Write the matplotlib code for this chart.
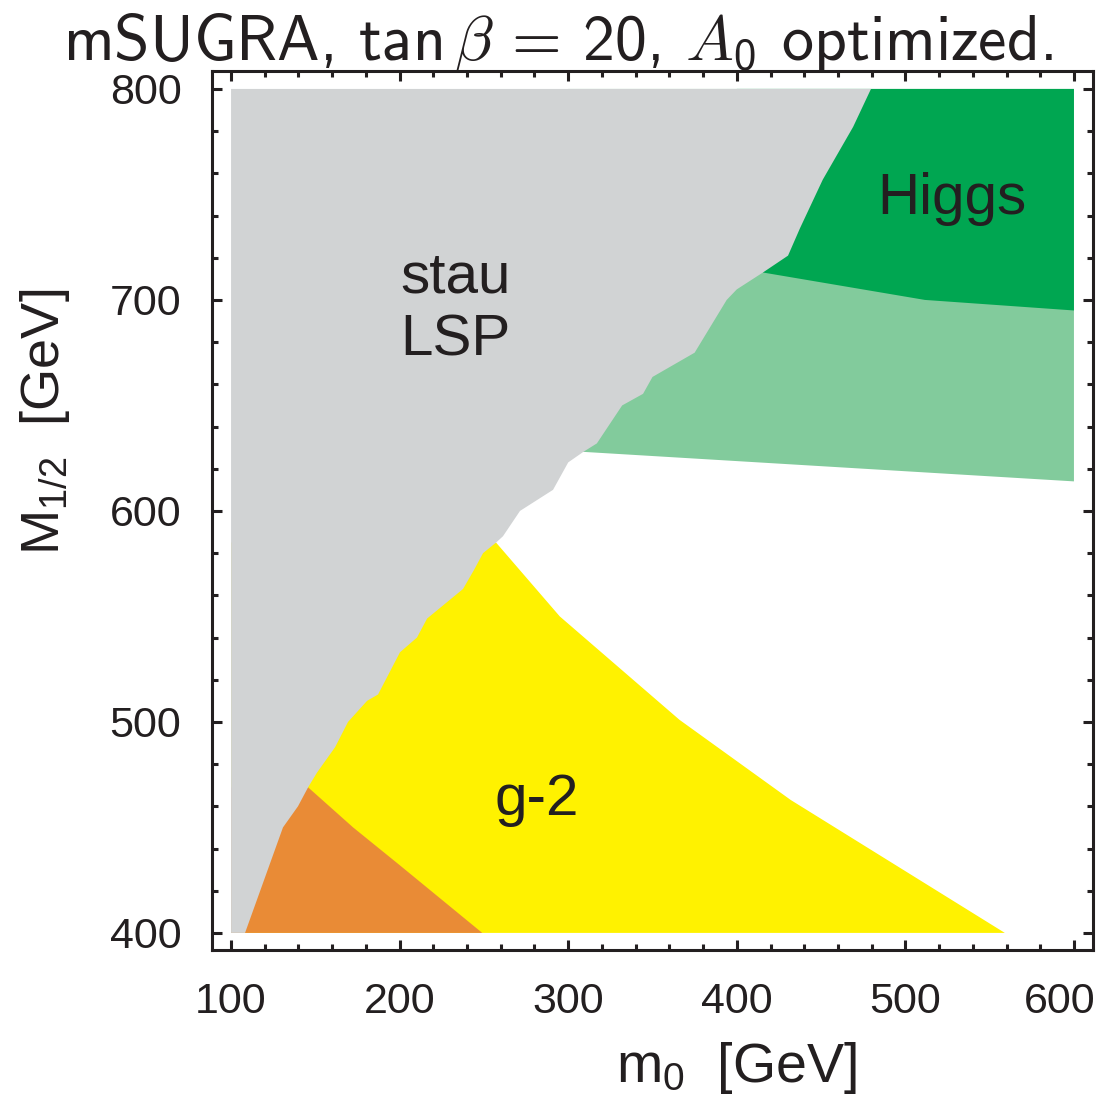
import matplotlib
matplotlib.use("Agg")
import matplotlib.pyplot as plt
from matplotlib.ticker import MultipleLocator
from matplotlib.transforms import ScaledTranslation

# boundaries (m0, M1/2) in GeV
stau_m0 = [479.6, 469, 451, 437.5, 430.4, 415.5, 400, 394, 375, 350, 344.4, 332,
           317, 309, 300, 291, 271.4, 261.3, 257.2, 249.5, 244.1, 237.6, 216.3,
           210.3, 200.2, 187.2, 180.7, 169.4, 161.7, 151, 145.7, 139.7, 130.8, 108.3]
stau_M12 = [800, 782, 757, 734, 721, 713, 705, 700, 675, 663.5, 655.5, 650,
            632, 628, 623, 610, 600, 588, 585, 580, 572, 563, 549,
            540, 533, 513, 510, 500, 488, 476, 469, 460, 450, 400]

g2_m0 = [257.2, 295, 366, 432, 559]
g2_M12 = [585, 550, 501, 463, 400]

g2_2s_m0 = [145.7, 172.4, 200.2, 249]
g2_2s_M12 = [469, 450, 432, 400]

higgs_m0 = [415.5, 511.6, 600]
higgs_M12 = [713, 700, 695]

higgs_2s_m0 = [308.8, 600]
higgs_2s_M12 = [628, 614]

TXT = "#231f20"
plt.rcParams["font.family"] = ["Liberation Sans", "DejaVu Sans"]
plt.rcParams["mathtext.fontset"] = "custom"
plt.rcParams["mathtext.rm"] = "Liberation Sans"
plt.rcParams["mathtext.it"] = "Liberation Sans:italic"

fig = plt.figure(figsize=(11.04, 10.98), dpi=100)
ax = fig.add_axes([212 / 1104, 1 - 950 / 1098, 881 / 1104, 879 / 1098])

# light green (Higgs, weaker bound)
ax.fill(higgs_2s_m0 + [600, 300], higgs_2s_M12 + [800, 800],
        color="#82cb9c", lw=0, zorder=1)
# dark green (Higgs)
ax.fill(higgs_m0 + [600, 400], higgs_M12 + [800, 800],
        color="#00a651", lw=0, zorder=2)
# yellow (g-2)
ax.fill(g2_m0 + [100, 100], g2_M12 + [400, 585],
        color="#fff200", lw=0, zorder=3)
# orange (g-2, tighter)
ax.fill(g2_2s_m0 + [100, 100], g2_2s_M12 + [400, 469],
        color="#e98b36", lw=0, zorder=4)
# gray (stau LSP)
ax.fill([100] + stau_m0 + [100], [800] + stau_M12 + [400],
        color="#d1d3d4", lw=0, zorder=5)

ax.set_xlim(88.7, 611.3)
ax.set_ylim(391.9, 808.5)
ax.xaxis.set_major_locator(MultipleLocator(100))
ax.xaxis.set_minor_locator(MultipleLocator(20))
ax.yaxis.set_major_locator(MultipleLocator(100))
ax.yaxis.set_minor_locator(MultipleLocator(20))
ax.tick_params(which="both", direction="in", top=True, right=True,
               colors=TXT, width=2.2, zorder=10)
ax.tick_params(which="major", length=7.5, labelsize=31)
ax.tick_params(which="minor", length=4)
ax.tick_params(axis="x", pad=23)
ax.tick_params(axis="y", pad=22)
for s in ax.spines.values():
    s.set_linewidth(2.2)
    s.set_color(TXT)
    s.set_zorder(10)

ax.text(232.9, 703.3, "stau", fontsize=42, color=TXT, ha="center", va="baseline", zorder=11)
ax.text(232.9, 673.5, "LSP", fontsize=42, color=TXT, ha="center", va="baseline", zorder=11)
ax.text(527.6, 740.8, "Higgs", fontsize=42, color=TXT, ha="center", va="baseline", zorder=11)
ax.text(281.5, 455.9, "g-2", fontsize=42, color=TXT, ha="center", va="baseline", zorder=11)

fig.text(736 / 1104, 1 - 1068 / 1098, r"m$_\mathrm{0}$  [GeV]", fontsize=40,
         color=TXT, ha="center", va="center")
fig.text(45 / 1104, 1 - 422 / 1098, r"M$_\mathrm{1/2}$  [GeV]", fontsize=39,
         color=TXT, ha="center", va="center", rotation=90)

fig.text(558 / 1104, 1 - 60 / 1098,
         r"mSUGRA, tan$\,\beta$ = 20, $A_\mathregular{0}$ optimized.",
         family="cmss10", fontsize=46, color=TXT, ha="center", va="baseline",
         math_fontfamily="cm")

# the last x tick label sits a bit to the left so it stays inside the figure
fig.canvas.draw()
for tick in ax.xaxis.get_major_ticks():
    if abs(tick.get_loc() - 600) < 1e-6:
        lab = tick.label1
        lab.set_transform(lab.get_transform() +
                          ScaledTranslation(-14 / 100, 0, fig.dpi_scale_trans))

fig.savefig("out.png", dpi=100)
